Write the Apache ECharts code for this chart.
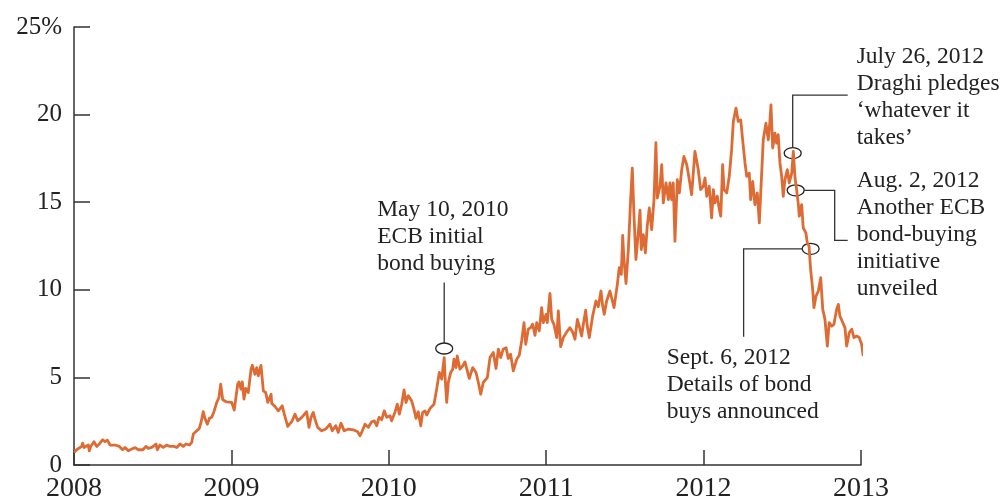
<!DOCTYPE html>
<html>
<head>
<meta charset="utf-8">
<script src="https://cdn.jsdelivr.net/npm/echarts@6/dist/echarts.min.js"></script>
<style>
  html, body { margin: 0; padding: 0; background: #fff; }
  #chart { width: 1004px; height: 503px; }
</style>
</head>
<body>
<div id="chart"></div>
<script>
// time in decimal years
const years = [
  2008.000, 2008.017, 2008.049, 2008.055, 2008.064, 2008.091, 2008.097, 2008.106, 2008.127, 2008.144,
  2008.161, 2008.182, 2008.197, 2008.212, 2008.229, 2008.261, 2008.288, 2008.309, 2008.324, 2008.345,
  2008.367, 2008.388, 2008.409, 2008.437, 2008.457, 2008.472, 2008.494, 2008.521, 2008.529, 2008.546,
  2008.567, 2008.589, 2008.610, 2008.635, 2008.653, 2008.673, 2008.694, 2008.712, 2008.733, 2008.748,
  2008.758, 2008.780, 2008.796, 2008.807, 2008.821, 2008.832, 2008.847, 2008.860, 2008.875, 2008.889,
  2008.907, 2008.921, 2008.932, 2008.945, 2008.970, 2009.002, 2009.018, 2009.040, 2009.048, 2009.061,
  2009.069, 2009.080, 2009.091, 2009.107, 2009.125, 2009.133, 2009.150, 2009.161, 2009.171, 2009.188,
  2009.203, 2009.218, 2009.231, 2009.252, 2009.256, 2009.277, 2009.298, 2009.323, 2009.336, 2009.358,
  2009.383, 2009.404, 2009.421, 2009.447, 2009.478, 2009.493, 2009.506, 2009.520, 2009.531, 2009.548,
  2009.574, 2009.599, 2009.626, 2009.641, 2009.663, 2009.679, 2009.696, 2009.717, 2009.743, 2009.774,
  2009.802, 2009.817, 2009.832, 2009.849, 2009.870, 2009.891, 2009.908, 2009.923, 2009.938, 2009.955,
  2009.971, 2009.987, 2010.008, 2010.018, 2010.039, 2010.054, 2010.067, 2010.082, 2010.097, 2010.109,
  2010.124, 2010.145, 2010.160, 2010.173, 2010.187, 2010.203, 2010.215, 2010.230, 2010.241, 2010.262,
  2010.287, 2010.304, 2010.321, 2010.336, 2010.352, 2010.357, 2010.368, 2010.378, 2010.393, 2010.406,
  2010.414, 2010.427, 2010.435, 2010.452, 2010.469, 2010.484, 2010.499, 2010.511, 2010.533, 2010.554,
  2010.569, 2010.584, 2010.600, 2010.626, 2010.643, 2010.664, 2010.681, 2010.696, 2010.711, 2010.727,
  2010.745, 2010.759, 2010.774, 2010.791, 2010.813, 2010.829, 2010.844, 2010.859, 2010.870, 2010.886,
  2010.901, 2010.914, 2010.929, 2010.940, 2010.956, 2010.971, 2010.982, 2010.999, 2011.007, 2011.024,
  2011.035, 2011.049, 2011.067, 2011.077, 2011.092, 2011.109, 2011.130, 2011.151, 2011.168, 2011.183,
  2011.198, 2011.210, 2011.225, 2011.236, 2011.251, 2011.261, 2011.274, 2011.295, 2011.316, 2011.331,
  2011.348, 2011.359, 2011.369, 2011.384, 2011.405, 2011.431, 2011.452, 2011.464, 2011.477, 2011.486,
  2011.494, 2011.507, 2011.522, 2011.537, 2011.547, 2011.558, 2011.570, 2011.585, 2011.596, 2011.604,
  2011.617, 2011.630, 2011.642, 2011.655, 2011.670, 2011.685, 2011.697, 2011.706, 2011.723, 2011.734,
  2011.744, 2011.761, 2011.776, 2011.786, 2011.797, 2011.807, 2011.818, 2011.833, 2011.846, 2011.861,
  2011.875, 2011.893, 2011.909, 2011.924, 2011.945, 2011.966, 2011.981, 2011.998, 2012.009, 2012.020,
  2012.036, 2012.051, 2012.062, 2012.072, 2012.087, 2012.100, 2012.109, 2012.121, 2012.130, 2012.147,
  2012.163, 2012.178, 2012.189, 2012.206, 2012.220, 2012.236, 2012.248, 2012.263, 2012.274, 2012.290,
  2012.299, 2012.312, 2012.326, 2012.341, 2012.354, 2012.369, 2012.379, 2012.396, 2012.411, 2012.422,
  2012.428, 2012.439, 2012.453, 2012.464, 2012.474, 2012.485, 2012.496, 2012.506, 2012.517, 2012.532,
  2012.544, 2012.560, 2012.570, 2012.581, 2012.591, 2012.602, 2012.608, 2012.623, 2012.633, 2012.650,
  2012.659, 2012.670, 2012.680, 2012.693, 2012.701, 2012.714, 2012.729, 2012.744, 2012.757, 2012.771,
  2012.786, 2012.798, 2012.814, 2012.828, 2012.845, 2012.856, 2012.866, 2012.884, 2012.898, 2012.909,
  2012.926, 2012.941, 2012.955, 2012.973, 2012.989, 2013.004, 2013.014
];

// bond spread, percent
const spread = [
  0.72, 0.87, 1.06, 1.25, 1.00, 1.14, 0.81, 1.06, 1.33, 1.06,
  1.20, 1.44, 1.33, 1.42, 1.14, 1.14, 1.06, 0.87, 1.00, 0.81,
  0.91, 0.99, 0.87, 0.87, 1.06, 0.95, 1.00, 1.20, 0.87, 1.14,
  1.00, 1.14, 1.06, 1.06, 1.00, 1.20, 1.06, 1.20, 1.14, 1.29,
  1.77, 1.95, 2.09, 2.43, 3.04, 2.66, 2.33, 2.66, 2.72, 3.04,
  3.57, 3.85, 4.61, 3.72, 3.60, 3.57, 3.13, 4.61, 4.74, 4.33,
  4.74, 3.76, 4.37, 4.14, 5.47, 5.69, 5.18, 5.56, 5.09, 5.69,
  4.23, 4.14, 3.57, 4.04, 3.53, 3.34, 3.09, 3.38, 2.90, 2.20,
  2.47, 2.90, 2.52, 2.72, 3.04, 2.15, 2.72, 3.00, 2.62, 2.15,
  1.95, 2.05, 2.33, 1.95, 2.24, 1.86, 2.39, 1.95, 2.05, 2.01,
  1.90, 1.67, 1.95, 2.33, 2.15, 2.47, 2.52, 2.24, 2.72, 2.58,
  3.09, 2.72, 2.81, 2.52, 3.00, 3.47, 2.90, 3.47, 4.29, 3.57,
  3.95, 3.66, 3.19, 2.66, 3.04, 2.24, 3.00, 3.09, 2.85, 3.23,
  3.47, 4.33, 5.28, 4.90, 6.13, 5.09, 3.57, 4.71, 5.28, 5.47,
  6.04, 5.56, 6.22, 5.47, 5.65, 5.88, 5.37, 4.94, 5.56, 5.28,
  4.71, 4.04, 4.71, 4.99, 6.13, 6.42, 5.51, 6.61, 6.13, 6.61,
  6.70, 6.08, 6.32, 5.37, 6.04, 6.26, 7.08, 8.13, 6.89, 7.75,
  7.84, 8.03, 7.40, 8.13, 7.65, 8.98, 8.13, 8.60, 8.13, 9.79,
  8.31, 8.03, 7.27, 8.79, 6.76, 7.27, 7.59, 7.84, 7.59, 7.18,
  8.31, 7.93, 7.36, 8.03, 8.84, 7.93, 7.27, 8.50, 9.36, 9.04,
  9.93, 9.07, 8.60, 9.36, 9.93, 8.98, 10.31, 11.26, 10.88, 13.10,
  11.73, 10.36, 12.30, 15.24, 16.95, 14.20, 11.73, 13.25, 14.54, 12.30,
  13.15, 12.11, 13.63, 14.67, 13.44, 15.15, 18.40, 15.24, 15.91, 17.14,
  14.96, 16.10, 15.15, 16.10, 15.15, 16.10, 12.77, 16.29, 15.53, 16.86,
  17.61, 17.14, 16.29, 15.43, 17.90, 16.86, 15.72, 15.91, 16.38, 15.34,
  15.91, 14.10, 15.72, 14.96, 15.34, 14.58, 14.20, 17.14, 15.72, 15.53,
  16.48, 18.00, 19.61, 20.37, 19.61, 19.70, 18.56, 17.24, 16.48, 16.66,
  15.15, 16.19, 14.86, 15.53, 13.82, 16.66, 18.56, 19.51, 18.56, 19.70,
  20.56, 18.09, 18.94, 18.37, 18.85, 17.24, 16.48, 15.34, 16.29, 16.86,
  16.10, 16.66, 17.90, 16.38, 15.72, 14.86, 14.20, 14.86, 13.54, 13.25,
  12.68, 12.49, 11.16, 10.02, 8.98, 9.64, 9.93, 10.69, 8.88, 8.31,
  6.79, 8.13, 7.93, 8.03, 8.88, 9.17, 8.50, 8.13, 7.84, 6.79,
  7.56, 7.75, 7.27, 7.36, 7.27, 6.89, 6.22
];

const yTicks = [0, 5, 10, 15, 20, 25];
const xTicks = [2008, 2009, 2010, 2011, 2012, 2013];

// annotated events: date (decimal year), level on the chart, text lines
const eventYears = [2010.352, 2012.566, 2012.585, 2012.680];
const eventLevels = [6.65, 17.8, 15.68, 12.34];
const eventTexts = [
  ['May 10, 2010', 'ECB initial', 'bond buying'],
  ['July 26, 2012', 'Draghi pledges', '\u2018whatever it', 'takes\u2019'],
  ['Aug. 2, 2012', 'Another ECB', 'bond-buying', 'initiative', 'unveiled'],
  ['Sept. 6, 2012', 'Details of bond', 'buys announced']
];

const FONT = '"Liberation Serif", "DejaVu Serif", serif';
const INK = '#333333';
const ORANGE = '#DD6B33';

const chart = echarts.init(document.getElementById('chart'));

chart.setOption({
  animation: false,
  grid: { left: 74, right: 143, top: 27, bottom: 37, containLabel: false },
  xAxis: {
    type: 'value',
    min: 2008,
    max: 2013,
    interval: 1,
    splitLine: { show: false },
    axisLine: { lineStyle: { color: INK, width: 1.5 } },
    axisTick: { inside: true, length: 15, lineStyle: { color: INK, width: 1.5 } },
    axisLabel: {
      margin: 10,
      fontFamily: FONT,
      fontSize: 28,
      color: '#222',
      formatter: (v) => (xTicks.indexOf(v) >= 0 ? String(v) : '')
    }
  },
  yAxis: {
    type: 'value',
    min: 0,
    max: 25,
    interval: 5,
    splitLine: { show: false },
    axisLine: { show: true, lineStyle: { color: INK, width: 1.5 } },
    axisTick: { show: true, inside: true, length: 16, lineStyle: { color: INK, width: 1.5 } },
    axisLabel: {
      margin: 12,
      fontFamily: FONT,
      fontSize: 25,
      color: '#222',
      formatter: (v) => (v === yTicks[yTicks.length - 1] ? v + '%' : String(v))
    }
  },
  series: [{
    type: 'line',
    data: years.map((y, i) => [y, spread[i]]),
    showSymbol: false,
    clip: false,
    lineStyle: { color: ORANGE, width: 2.8, join: 'round' }
  }]
});

// annotations: ellipse on the event, leader line, label text
const px = eventYears.map((y, i) => chart.convertToPixel({ gridIndex: 0 }, [y, eventLevels[i]]));
const lineStyle = { stroke: INK, lineWidth: 1.3, fill: null };
const textStyle = (lines, x, y) => ({
  type: 'text',
  x: x, y: y,
  style: { text: lines.join('\n'), font: '23.5px ' + FONT, fill: '#222', lineHeight: 27, verticalAlign: 'top' }
});
const ellipse = (p) => ({ type: 'ellipse', shape: { cx: p[0], cy: p[1], rx: 8.5, ry: 5.5 }, style: { stroke: '#222', lineWidth: 1.3, fill: null } });

const [a, b, c, d] = px;
const graphics = [
  ellipse(a),
  { type: 'line', shape: { x1: a[0], y1: a[1] - 5.5, x2: a[0], y2: a[1] - 66 }, style: lineStyle },
  textStyle(eventTexts[0], a[0] - 67, a[1] - 152),

  ellipse(b),
  { type: 'polyline', shape: { points: [[b[0], b[1] - 5.5], [b[0], b[1] - 58], [b[0] + 55, b[1] - 58]] }, style: lineStyle },
  textStyle(eventTexts[1], b[0] + 64, b[1] - 110),

  ellipse(c),
  { type: 'polyline', shape: { points: [[c[0] + 8.5, c[1]], [c[0] + 39, c[1]], [c[0] + 39, c[1] + 50], [c[0] + 52, c[1] + 50]] }, style: lineStyle },
  textStyle(eventTexts[2], c[0] + 61, c[1] - 23),

  ellipse(d),
  { type: 'polyline', shape: { points: [[d[0] - 8.5, d[1]], [d[0] - 67, d[1]], [d[0] - 67, d[1] + 88]] }, style: lineStyle },
  textStyle(eventTexts[3], d[0] - 144, d[1] + 96)
];
chart.setOption({ graphic: graphics });
</script>
</body>
</html>
